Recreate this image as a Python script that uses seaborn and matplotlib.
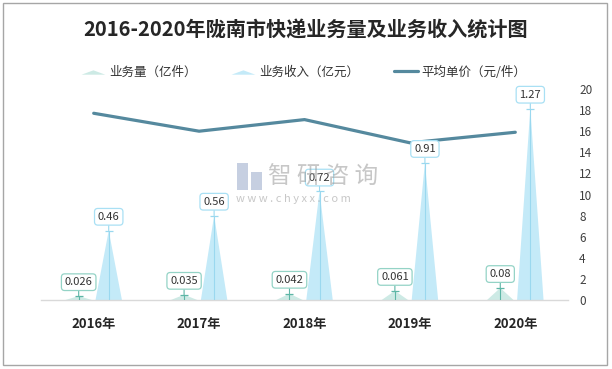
import numpy as np
import pandas as pd
import matplotlib
matplotlib.use("Agg")
import matplotlib.pyplot as plt
import seaborn as sns
from matplotlib.patches import Polygon, Rectangle
from matplotlib.lines import Line2D
from matplotlib.legend_handler import HandlerPatch

# ---- data ----
years = ["2016年", "2017年", "2018年", "2019年", "2020年"]
volume = [0.026, 0.035, 0.042, 0.061, 0.08]      # 业务量（亿件）
revenue = [0.46, 0.56, 0.72, 0.91, 1.27]         # 业务收入（亿元）
price = [17.7, 16.0, 17.1, 14.9, 15.9]           # 平均单价（元/件）
series_names = ["业务量（亿件）", "业务收入（亿元）", "平均单价（元/件）"]
title = "2016-2020年陇南市快递业务量及业务收入统计图"

sns.set_theme(style="white")
plt.rcParams["font.family"] = ["Noto Sans CJK SC", "DejaVu Sans"]

W, H = 612, 369
fig = plt.figure(figsize=(W / 100, H / 100), dpi=100)
fig.patch.set_facecolor("white")

def fx(px):
    return px / W

def fy(py):
    return 1 - py / H

ax = fig.add_axes([fx(41), fy(300), fx(568) - fx(41), fy(89) - fy(300)])

df = pd.DataFrame({
    "year": years * 2,
    "series": [series_names[0]] * len(years) + [series_names[1]] * len(years),
    "value": volume + revenue,
})

fill_colors = {series_names[0]: "#cdeae5", series_names[1]: "#c4eaf8"}
ridge_colors = {series_names[0]: "#5db6a6", series_names[1]: "#9ad8ef"}
box_colors = {series_names[0]: "#94d3c6", series_names[1]: "#a9e0f4"}

sns.barplot(data=df, x="year", y="value", hue="series", palette=fill_colors,
            width=0.57, gap=0.12, ax=ax, legend=False, saturation=1)
ax.set_ylim(0, 1.4)

# convert bars into "peak" triangles
for cont, name, vals in zip(ax.containers, series_names[:2], [volume, revenue]):
    for bar, v in zip(cont.patches, vals):
        x0 = bar.get_x()
        w = bar.get_width()
        h = bar.get_height()
        xc = x0 + w / 2
        bar.set_visible(False)
        tri = Polygon([[x0, 0], [xc, h], [x0 + w, 0]], closed=True,
                      facecolor=fill_colors[name], edgecolor="none", zorder=2)
        ax.add_patch(tri)
        ax.plot([xc, xc], [0, h], color=ridge_colors[name], lw=0.8, zorder=3)
        ax.plot([xc], [h], marker="_", ms=6, mew=0.9, color=ridge_colors[name], zorder=3)
        txt = f"{v:g}"
        ax.annotate(txt, xy=(xc, h), xytext=(0, 10), textcoords="offset points",
                    ha="center", va="center", fontsize=8, color="#333333",
                    bbox=dict(boxstyle="round,pad=0.3,rounding_size=0.3",
                              facecolor="white", edgecolor=box_colors[name], lw=0.9),
                    arrowprops=dict(arrowstyle="-", color=ridge_colors[name], lw=0.8,
                                    shrinkA=0, shrinkB=0),
                    zorder=5)

# price line on secondary axis
ax2 = ax.twinx()
sns.lineplot(x=np.arange(len(years)), y=price, ax=ax2, color="#55899e", lw=2.3,
             zorder=1)
ax2.set_ylim(0, 20)
ax2.set_yticks(np.arange(0, 21, 2))
ax2.tick_params(axis="y", length=0, pad=8, labelsize=8.5, labelcolor="#404040")
ax2.set_ylabel("")

ax.set_zorder(ax2.get_zorder() + 1)
ax.patch.set_visible(False)

ax.set_xlim(-0.5, len(years) - 0.5)
ax.set_xlabel("")
ax.set_ylabel("")
ax.set_yticks([])
ax.tick_params(axis="x", length=0, pad=12)
for lab in ax.get_xticklabels():
    lab.set_fontsize(9.5)
    lab.set_fontweight("bold")
    lab.set_color("#262626")

for a in (ax, ax2):
    for s in ["top", "left", "right", "bottom"]:
        a.spines[s].set_visible(False)
ax.spines["bottom"].set_visible(True)
ax.spines["bottom"].set_color("#d9d9d9")
ax.spines["bottom"].set_linewidth(1)
ax2.grid(False)
ax.grid(False)

# title
fig.text(fx(306), fy(30), title, ha="center", va="center", fontsize=14.5,
         fontweight="bold", color="#262626")

# legend with triangle handles
class TriHandler(HandlerPatch):
    def create_artists(self, legend, orig_handle, xdescent, ydescent, width, height,
                       fontsize, trans):
        y0 = -ydescent + height * 0.1
        p = Polygon([[-xdescent, y0], [-xdescent + width / 2, y0 + height * 0.5],
                     [-xdescent + width, y0]], closed=True,
                    facecolor=orig_handle.get_facecolor(), edgecolor="none",
                    transform=trans)
        return [p]

h1 = Rectangle((0, 0), 1, 1, facecolor=fill_colors[series_names[0]])
h2 = Rectangle((0, 0), 1, 1, facecolor=fill_colors[series_names[1]])
h3 = Line2D([], [], color="#55899e", lw=2.3)
fig.legend([h1, h2, h3], series_names, loc="center", ncol=3,
           bbox_to_anchor=(fx(304), fy(72)), frameon=False, fontsize=9,
           handlelength=1.9, handletextpad=0.3, columnspacing=2.8,
           handler_map={Rectangle: TriHandler()}, labelcolor="#333333")

# watermark
fig.patches.append(Rectangle((fx(237), fy(190)), fx(11), fy(163) - fy(190),
                             transform=fig.transFigure, facecolor="#b8c4da",
                             edgecolor="none", alpha=0.8))
fig.patches.append(Rectangle((fx(251), fy(190)), fx(11), fy(172) - fy(190),
                             transform=fig.transFigure, facecolor="#b8c4da",
                             edgecolor="none", alpha=0.8))
fig.text(fx(268), fy(177), "智 研 咨 询", ha="left", va="center", fontsize=17,
         color="#9a9a9a", alpha=0.55)
fig.text(fx(236), fy(199), "w w w . c h y x x . c o m", ha="left", va="center",
         fontsize=8, color="#9a9a9a", alpha=0.55)

# outer frame
fig.patches.append(Rectangle((fx(3), fy(365)), fx(604), fy(3) - fy(365),
                             transform=fig.transFigure, facecolor="none",
                             edgecolor="#a6a6a6", lw=1))

fig.savefig("out.png", dpi=100)
